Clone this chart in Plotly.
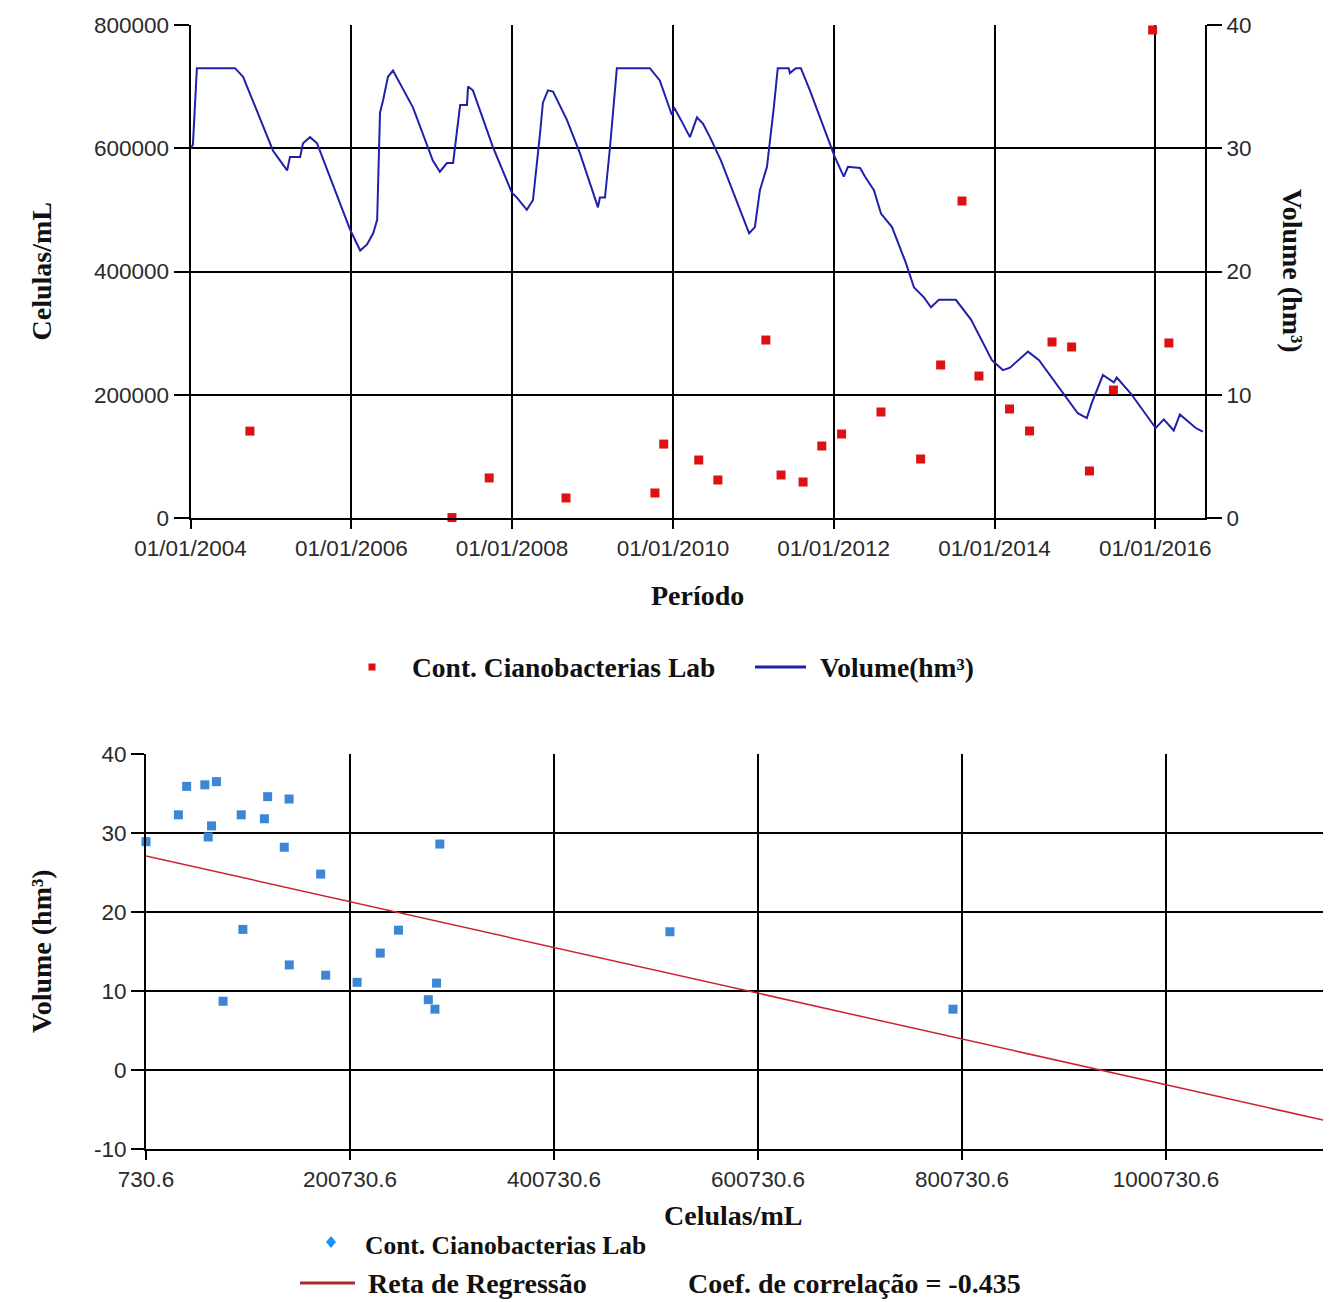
import plotly.graph_objects as go

W, H = 1342, 1302

# Volume do reservatório (hm³) ao longo do período
vol_datas = [
    "2004-01-03", "2004-01-12", "2004-01-30", "2004-07-21", "2004-08-27", "2004-11-26",
    "2005-01-10", "2005-02-11", "2005-03-15", "2005-03-28", "2005-05-13", "2005-05-26",
    "2005-06-27", "2005-07-29", "2005-09-26", "2005-12-26", "2006-02-10", "2006-03-13",
    "2006-04-10", "2006-04-28", "2006-05-11", "2006-05-25", "2006-06-16", "2006-07-09",
    "2006-10-08", "2006-12-24", "2007-01-06", "2007-02-07", "2007-03-11", "2007-04-08",
    "2007-04-17", "2007-05-10", "2007-06-10", "2007-06-15", "2007-07-07", "2007-10-06",
    "2007-12-31", "2008-01-23", "2008-03-08", "2008-04-05", "2008-05-07", "2008-05-20",
    "2008-06-12", "2008-07-05", "2008-09-06", "2008-11-04", "2009-01-03", "2009-01-25",
    "2009-02-03", "2009-02-26", "2009-03-21", "2009-04-21", "2009-09-18", "2009-11-02",
    "2009-12-27", "2010-01-06", "2010-02-06", "2010-03-19", "2010-04-20", "2010-05-17",
    "2010-06-18", "2010-08-07", "2010-12-13", "2011-01-08", "2011-01-31", "2011-03-04",
    "2011-04-04", "2011-04-22", "2011-06-11", "2011-06-16", "2011-07-13", "2011-08-05",
    "2011-09-15", "2011-12-06", "2012-01-06", "2012-02-16", "2012-03-06", "2012-04-30",
    "2012-05-22", "2012-07-02", "2012-08-03", "2012-09-22", "2012-11-24", "2012-12-31",
    "2013-02-14", "2013-03-18", "2013-04-23", "2013-07-09", "2013-09-16", "2013-12-20",
    "2014-02-08", "2014-03-12", "2014-06-02", "2014-07-22", "2014-10-07", "2014-12-14",
    "2015-01-14", "2015-02-24", "2015-03-18", "2015-05-08", "2015-06-27", "2015-07-10",
    "2015-09-12", "2016-01-03", "2016-02-09", "2016-03-25", "2016-04-22", "2016-07-03",
    "2016-08-04",
]
vol_hm3 = [
    30.0, 30.3, 36.5, 36.5, 35.8, 31.7,
    29.8, 29.0, 28.2, 29.3, 29.3, 30.4,
    30.9, 30.4, 27.7, 23.4, 21.7, 22.2,
    23.1, 24.2, 32.9, 33.9, 35.8, 36.3,
    33.3, 29.6, 29.0, 28.1, 28.8, 28.8,
    30.0, 33.5, 33.5, 35.0, 34.7, 30.1,
    26.4, 26.0, 25.0, 25.8, 31.2, 33.7,
    34.7, 34.6, 32.3, 29.6, 26.4, 25.2,
    26.0, 26.0, 30.1, 36.5, 36.5, 35.5,
    32.7, 33.3, 32.3, 30.9, 32.5, 32.0,
    30.9, 29.0, 23.1, 23.6, 26.6, 28.5,
    33.3, 36.5, 36.5, 36.1, 36.5, 36.5,
    34.7, 30.7, 29.3, 27.7, 28.5, 28.4,
    27.7, 26.6, 24.7, 23.6, 20.7, 18.7,
    17.9, 17.1, 17.7, 17.7, 16.1, 12.8,
    12.0, 12.2, 13.5, 12.8, 10.9, 9.3,
    8.5, 8.1, 9.3, 11.6, 11.0, 11.4,
    10.1, 7.3, 8.0, 7.1, 8.4, 7.3,
    7.0,
]

# Contagens de cianobactérias (laboratório) e volume na data da coleta
coleta_datas = [
    "2004-09-27", "2007-04-03", "2007-09-19", "2008-09-02", "2009-10-11", "2009-11-20",
    "2010-04-28", "2010-07-24", "2011-02-27", "2011-05-07", "2011-08-15", "2011-11-08",
    "2012-02-06", "2012-08-03", "2013-01-30", "2013-05-01", "2013-08-06", "2013-10-22",
    "2014-03-10", "2014-06-09", "2014-09-19", "2014-12-17", "2015-03-08", "2015-06-25",
    "2015-12-20", "2016-03-03",
]
celulas_ml = [
    141000, 730.6, 65000, 32500, 40600, 120000,
    94100, 61700, 288800, 69800, 58400, 116800,
    136300, 172000, 95700, 248300, 514400, 230400,
    176900, 141200, 285600, 277500, 76300, 207700,
    791900, 284000,
]
volume_coleta = [
    34.3, 28.9, 30.9, 32.3, 35.9, 34.6,
    32.3, 29.5, 28.6, 36.5, 36.1, 31.8,
    28.2, 24.8, 17.8, 17.7, 17.5, 14.8,
    12.0, 13.3, 11.0, 8.9, 8.7, 11.1,
    7.7, 7.7,
]

# Reta de regressão Volume x Células/mL
reg_intercepto = 27.12
reg_inclinacao = -2.897e-5
coef_correlacao = -0.435

# Eixos
datas_ticks = ["2004-01-01", "2006-01-01", "2008-01-01", "2010-01-01",
               "2012-01-01", "2014-01-01", "2016-01-01"]
periodo_range = ["2004-01-01", "2016-08-14"]
cel_range = [730.6, 1154652]
vol_ticks = [-10, 0, 10, 20, 30, 40]
vol_ticktext = ["-10", "0", "10", "20", "30", "40"]

VERMELHO = "#DD1111"
AZUL_LINHA = "#2020A8"
AZUL_PONTO = "#3C86D6"
AZUL_LEGENDA = "#1E90FF"
VERMELHO_RETA = "#CC2233"

SANS = "Liberation Sans, Arial, sans-serif"
SERIF = "Liberation Serif, Times New Roman, serif"
TICK_FONT = dict(family=SANS, size=22.5, color="#2a2a2a")
TITLE_FONT = dict(family=SERIF, size=28, color="#111111")


def px(x):
    return x / W


def py(y):
    return 1 - y / H


fig = go.Figure()

fig.add_trace(go.Scatter(
    x=vol_datas, y=vol_hm3, mode="lines", name="Volume(hm³)",
    line=dict(color=AZUL_LINHA, width=2), xaxis="x", yaxis="y2",
))
fig.add_trace(go.Scatter(
    x=coleta_datas, y=celulas_ml, mode="markers", name="Cont. Cianobacterias Lab",
    marker=dict(symbol="square", size=9, color=VERMELHO), cliponaxis=False,
    xaxis="x", yaxis="y",
))

fig.add_trace(go.Scatter(
    x=celulas_ml, y=volume_coleta, mode="markers", name="Cont. Cianobacterias Lab",
    marker=dict(symbol="square", size=9, color=AZUL_PONTO), cliponaxis=False,
    xaxis="x2", yaxis="y3",
))
reg_x = cel_range
reg_y = [reg_intercepto + reg_inclinacao * v for v in reg_x]
fig.add_trace(go.Scatter(
    x=reg_x, y=reg_y, mode="lines", name="Reta de Regressão",
    line=dict(color=VERMELHO_RETA, width=1.5), xaxis="x2", yaxis="y3",
))

axis_common = dict(
    showline=True, linecolor="black", linewidth=2,
    showgrid=True, gridcolor="black", gridwidth=2,
    ticks="outside", tickcolor="black", tickwidth=2,
    zeroline=False, tickfont=TICK_FONT, automargin=False,
)

fig.update_layout(
    width=W, height=H,
    margin=dict(l=0, r=0, t=0, b=0, pad=0, autoexpand=False),
    paper_bgcolor="white", plot_bgcolor="white",
    showlegend=False,
    xaxis=dict(
        axis_common, domain=[px(190.5), px(1205)], anchor="y", type="date",
        range=periodo_range, tickvals=datas_ticks, tickformat="%d/%m/%Y", ticklen=9,
    ),
    yaxis=dict(
        axis_common, domain=[py(518), py(25)], anchor="x",
        range=[0, 800000], tick0=0, dtick=200000, tickformat="d", ticklen=15,
    ),
    yaxis2=dict(
        axis_common, overlaying="y", side="right", anchor="x", showgrid=False,
        range=[0, 40], tick0=0, dtick=10, ticklen=15,
    ),
    xaxis2=dict(
        axis_common, domain=[px(146), px(1323)], anchor="y3",
        range=cel_range, tick0=cel_range[0], dtick=200000, tickformat=".1f", ticklen=9,
    ),
    yaxis3=dict(
        axis_common, domain=[py(1149), py(754)], anchor="x2",
        range=[-10, 40], tickmode="array", tickvals=vol_ticks, ticktext=vol_ticktext,
        ticklen=13,
    ),
)

anns = [
    dict(text="<b>Celulas/mL</b>", x=px(41), y=py(271.5), textangle=-90),
    dict(text="<b>Volume (hm³)</b>", x=px(1293), y=py(271), textangle=90),
    dict(text="<b>Período</b>", x=px(697), y=py(596)),
    dict(text="<b>Celulas/mL</b>", x=px(733), y=py(1215)),
    dict(text="<b>Volume (hm³)</b>", x=px(41), y=py(951), textangle=-90),
]
for a in anns:
    fig.add_annotation(xref="paper", yref="paper", showarrow=False,
                       xanchor="center", yanchor="middle", font=TITLE_FONT, **a)

LEG_FONT = dict(family=SERIF, size=27.5, color="#111111")
LEG_FONT2 = dict(family=SERIF, size=25.5, color="#111111")
LEG_FONT3 = dict(family=SERIF, size=28, color="#111111")
legend_texts = [
    ("<b>Cont. Cianobacterias Lab</b>", 410, 667, LEG_FONT),
    ("<b>Volume(hm³)</b>", 818, 667, LEG_FONT),
    ("<b>Cont. Cianobacterias Lab</b>", 363, 1245, LEG_FONT2),
    ("<b>Reta de Regressão</b>", 366, 1283, LEG_FONT3),
    (f"<b>Coef. de correlação = {coef_correlacao}</b>", 686, 1283, LEG_FONT3),
]
for txt, x, y, f in legend_texts:
    fig.add_annotation(xref="paper", yref="paper", showarrow=False, text=txt,
                       x=px(x), y=py(y), xanchor="left", yanchor="middle", font=f)

# Chaves da legenda
fig.add_shape(type="rect", xref="paper", yref="paper",
              x0=px(368.5), x1=px(375.5), y0=py(670.5), y1=py(663.5),
              fillcolor=VERMELHO, line=dict(width=0))
fig.add_shape(type="line", xref="paper", yref="paper",
              x0=px(755), x1=px(806), y0=py(667), y1=py(667),
              line=dict(color=AZUL_LINHA, width=3))
cx, cy = 331, 1242
fig.add_shape(type="path", xref="paper", yref="paper",
              path=(f"M {px(cx)},{py(cy - 6)} L {px(cx + 5)},{py(cy)} "
                    f"L {px(cx)},{py(cy + 6)} L {px(cx - 5)},{py(cy)} Z"),
              fillcolor=AZUL_LEGENDA, line=dict(width=0))
fig.add_shape(type="line", xref="paper", yref="paper",
              x0=px(300), x1=px(355), y0=py(1283), y1=py(1283),
              line=dict(color="#B0282E", width=3))

fig.write_html("out.html")
